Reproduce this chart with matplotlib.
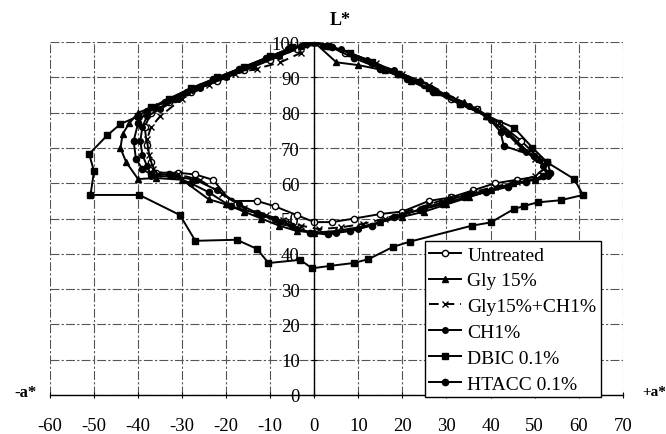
import matplotlib
matplotlib.use("Agg")
import matplotlib.pyplot as plt

plt.rcParams['font.family'] = ['Liberation Serif', 'DejaVu Serif']
plt.rcParams['axes.unicode_minus'] = False

# colour coordinates (a*, L*) for each treatment
untreated_a = [0, -4, -10, -16, -22, -28, -33, -37, -38.5, -38, -37, -36, -31, -27, -23, -19, -13, -9, -4, 0,
               4, 9, 15, 20, 26, 31, 36, 41, 46, 51, 53, 51, 47, 42, 37, 31, 25, 19, 13, 7, 3, 0]
untreated_L = [100, 98, 95, 92, 89, 86, 83, 80, 76, 71, 66, 63, 63, 62.5, 61, 55, 55, 53.5, 51, 49,
               49, 50, 51.3, 52, 55, 56, 58, 60, 61, 62, 63, 67, 72, 77, 81, 84, 88, 91, 94, 97, 99, 100]

gly_a = [0, 5, 10, 16, 22, 28, 34, 39, 43, 47, 51, 53, 50, 45, 40, 35, 30, 25, 20, 15, 10, 5, 0, -4, -8,
         -12, -16, -20, -24, -30, -36, -40, -42.7, -44, -43.5, -42, -40, -36, -32, -26, -20, -14, -8, -3, 0]
gly_L = [100, 94.3, 93.5, 92, 89, 86, 83, 79, 75, 70, 67, 63, 61, 60, 58, 56, 54, 52, 50.5, 49, 47.5, 46.5, 46, 46.5, 48,
         50, 52, 54, 55.5, 61, 61.5, 61.2, 66, 70, 74, 77, 80, 82, 84, 87.5, 90.5, 93.5, 96.5, 99, 100]

glych_a = [0, -3, -7.7, -13, -18, -24, -30, -35, -37, -38, -37.5, -36.5, -35.5, -31, -26, -21, -16, -11, -7, -3, 1,
           6, 11, 16, 21, 26, 31, 36, 41, 46, 50, 52, 50, 46, 42, 37, 32, 26, 20, 14, 8, 3, 0]
glych_L = [100, 97, 94.3, 92.5, 91, 88, 84, 79, 76, 72.5, 68, 64, 62.5, 62.5, 61, 57, 53, 51, 49.5, 48, 47,
           47.5, 48.5, 50, 52, 54, 56, 57.5, 59, 60.5, 62, 64, 67, 72, 77, 81, 84, 88, 91, 94, 97, 99, 100]

ch_a = [0, -3, -8, -14, -20, -26, -31, -35, -38, -39, -39.5, -39, -38, -37, -32, -27, -22, -17, -12, -8, -4, 0,
        5, 10, 15, 20, 25, 30, 35, 40, 45, 50, 53, 52, 48, 44, 40, 35, 30, 24, 18, 12, 6, 2, 0]
ch_L = [100, 99, 96, 93, 90, 87, 84, 81, 79, 76, 72, 68, 65, 62, 62, 61, 58, 54, 51, 49, 47, 46,
        46, 47, 49, 51, 53, 55, 57, 58, 60, 61, 62, 65, 69, 74, 78, 82, 85, 89, 92, 95, 98, 99, 100]

dbic_a = [0, -5, -10, -16, -22, -28, -33, -37, -40, -44, -47, -51.1, -50, -50.8, -39.7, -30.5, -27, -17.6, -13,
          -10.4, -3.2, -0.5, 3.6, 8.9, 12.3, 17.9, 21.8, 35.8, 40, 45.3, 47.7, 50.7, 55.9, 61, 59, 52.9, 49.5,
          45.3, 39.2, 33, 26, 19, 13, 8, 3, 0]
dbic_L = [100, 98.5, 96, 93, 90, 87, 84, 81.5, 79, 76.8, 73.6, 68.3, 63.4, 56.7, 56.7, 51, 43.7, 44, 41.4,
          37.4, 38.3, 35.9, 36.6, 37.4, 38.5, 42, 43.5, 48, 48.9, 52.7, 53.6, 54.6, 55.2, 56.7, 61.2, 65.9, 70.1,
          75.8, 79.1, 82.5, 87, 91, 94.5, 97, 99, 100]

htacc_a = [0, -2, -6, -11, -17, -23, -29, -34, -38, -40, -41, -40.5, -39, -37, -33, -28, -24, -19, -13, -9, -5, -1,
           3, 8, 13, 18, 24, 29, 34, 39, 44, 48, 52, 53.6, 52.9, 49.8, 43, 42.3, 39.2, 33, 27, 21, 15, 9, 4, 0]
htacc_L = [100, 99.5, 98, 95.5, 92.5, 89.5, 86, 83, 80.5, 77, 72, 67, 64, 62.5, 62.5, 60, 57.5, 53.5, 51.5, 50, 48, 46,
           45.5, 46.5, 48, 50.5, 52.5, 54, 56, 57.5, 59, 60.5, 62, 63, 65.9, 67.8, 70.6, 74.5, 79.1, 82.5, 86, 89.5,
           92.5, 95.5, 98.5, 100]

labels = ['Untreated', 'Gly 15%', 'Gly15%+CH1%', 'CH1%', 'DBIC 0.1%', 'HTACC 0.1%']
x_ticks = list(range(-60, 71, 10))
y_ticks = list(range(0, 101, 10))

fig = plt.figure(figsize=(6.66, 4.35), dpi=100)
ax = fig.add_axes([0.075, 0.0897, 0.86, 0.811])

series = [
    (untreated_a, untreated_L, dict(marker='o', mfc='white', ms=4.5, ls='-')),
    (gly_a, gly_L, dict(marker='^', mfc='black', ms=4, ls='-')),
    (glych_a, glych_L, dict(marker='x', mfc='black', ms=4, ls=(0, (5, 3)))),
    (ch_a, ch_L, dict(marker='o', mfc='black', ms=4, ls='-')),
    (dbic_a, dbic_L, dict(marker='s', mfc='black', ms=4, ls='-')),
    (htacc_a, htacc_L, dict(marker='o', mfc='black', ms=4.5, ls='-')),
]
for (a, L, style), lab in zip(series, labels):
    ax.plot(a, L, color='black', mec='black', lw=1.4, label=lab, **style)

ax.set_xlim(-60, 70)
ax.set_ylim(0, 100)
ax.set_xticks(x_ticks)
ax.set_yticks(y_ticks)
ax.grid(True, color='#555555', lw=0.8, ls=(0, (8, 2, 2, 2)))
ax.set_axisbelow(True)

# y axis crosses at a* = 0
ax.spines['left'].set_position(('data', 0))
ax.spines['top'].set_visible(False)
ax.spines['right'].set_visible(False)
ax.spines['left'].set_linewidth(1.0)
ax.spines['bottom'].set_linewidth(1.0)
ax.tick_params(axis='y', direction='inout', length=5, pad=8, labelsize=13.5)
ax.tick_params(axis='x', direction='inout', length=5, pad=13, labelsize=13.5)

leg = ax.legend(loc='upper left', bbox_to_anchor=(0.654, 0.436), fontsize=14,
                fancybox=False, framealpha=1, edgecolor='black', handlelength=1.65,
                handletextpad=0.3, labelspacing=0.42, borderpad=0.25, borderaxespad=0)
leg.get_frame().set_linewidth(1.0)

fig.text(0.51, 0.954, 'L*', ha='center', va='center', fontsize=13, fontweight='bold')
fig.text(0.038, 0.097, '-a*', ha='center', va='center', fontsize=12, fontweight='bold')
fig.text(0.983, 0.097, '+a*', ha='center', va='center', fontsize=11, fontweight='bold')

fig.savefig('out.png', dpi=100)
